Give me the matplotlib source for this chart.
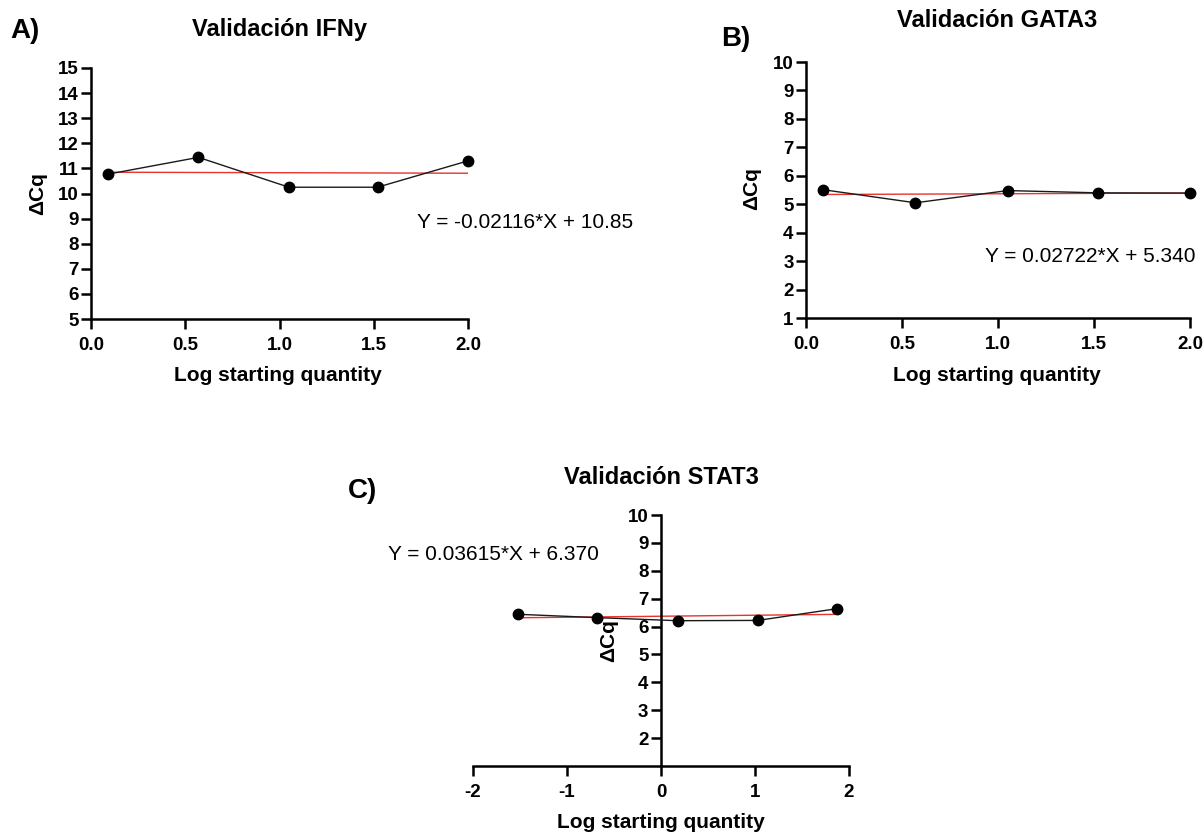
import matplotlib
matplotlib.use("Agg")
import matplotlib.pyplot as plt
import numpy as np

plt.rcParams["font.family"] = ["Liberation Sans", "DejaVu Sans"]
plt.rcParams["axes.unicode_minus"] = False

# log starting quantity (3-fold / 7-fold dilution series)
x_ifng = [0.09, 0.57, 1.05, 1.52, 2.0]
dcq_ifng = [10.77, 11.44, 10.25, 10.25, 11.30]

x_gata3 = [0.09, 0.57, 1.05, 1.52, 2.0]
dcq_gata3 = [5.51, 5.05, 5.48, 5.40, 5.39]

x_stat3 = [-1.52, -0.68, 0.18, 1.03, 1.87]
dcq_stat3 = [6.44, 6.32, 6.21, 6.22, 6.64]

# linear fits (slope, intercept)
fit_ifng = (-0.02116, 10.85)
fit_gata3 = (0.02722, 5.340)
fit_stat3 = (0.03615, 6.370)

W, H = 1204, 833
fig = plt.figure(figsize=(W / 100, H / 100), dpi=100)


def px_axes(left, top, right, bottom):
    return fig.add_axes([left / W, 1 - bottom / H, (right - left) / W, (bottom - top) / H])


def style(ax):
    for s in ["top", "right"]:
        ax.spines[s].set_visible(False)
    for s in ["left", "bottom"]:
        ax.spines[s].set_linewidth(1.8)
    ax.tick_params(width=1.8, length=7, labelsize=13.5)
    ax.tick_params(axis="x", pad=6)
    ax.tick_params(axis="y", pad=2)
    for lab in ax.get_xticklabels() + ax.get_yticklabels():
        lab.set_fontweight("bold")


def draw(ax, x, y, fit):
    xs = np.array([min(x), max(x)])
    ax.plot(xs, fit[0] * xs + fit[1], color="#e8332e", lw=1.0, zorder=2)
    ax.plot(x, y, color="#1a1a1a", lw=1.0, marker="o", ms=7.5,
            mfc="black", mec="black", zorder=3, clip_on=False)


def eq(fit):
    if abs(fit[1]) < 10:
        return f"Y = {fit[0]:.5f}*X + {fit[1]:.3f}"
    return f"Y = {fit[0]:.5f}*X + {fit[1]:.2f}"


# A) IFNy
ax = px_axes(91, 68, 468, 319)
draw(ax, x_ifng, dcq_ifng, fit_ifng)
ax.set_xlim(0, 2)
ax.set_ylim(5, 15)
ax.set_xticks([0, 0.5, 1.0, 1.5, 2.0])
ax.set_xticklabels(["0.0", "0.5", "1.0", "1.5", "2.0"])
ax.set_yticks(range(5, 16))
style(ax)

# B) GATA3
ax = px_axes(806, 62, 1190, 318)
draw(ax, x_gata3, dcq_gata3, fit_gata3)
ax.set_xlim(0, 2)
ax.set_ylim(1, 10)
ax.set_xticks([0, 0.5, 1.0, 1.5, 2.0])
ax.set_xticklabels(["0.0", "0.5", "1.0", "1.5", "2.0"])
ax.set_yticks(range(1, 11))
style(ax)

# C) STAT3, y axis crosses at x = 0
ax = px_axes(473, 515, 849, 766)
draw(ax, x_stat3, dcq_stat3, fit_stat3)
ax.set_xlim(-2, 2)
ax.set_ylim(1, 10)
ax.set_xticks([-2, -1, 0, 1, 2])
ax.set_yticks(range(2, 11))
ax.spines["left"].set_position(("data", 0))
style(ax)

# titles, panel letters, axis labels, equations
title_kw = dict(fontsize=17, fontweight="bold", ha="center", va="baseline")
fig.text(279 / W, 1 - 36 / H, "Validación IFNy", **title_kw)
fig.text(997 / W, 1 - 27 / H, "Validación GATA3", **title_kw)
fig.text(661 / W, 1 - 484 / H, "Validación STAT3", **title_kw)

letter_kw = dict(fontsize=20, fontweight="bold", ha="left", va="baseline")
fig.text(10 / W, 1 - 38 / H, "A)", **letter_kw)
fig.text(721 / W, 1 - 46 / H, "B)", **letter_kw)
fig.text(348 / W, 1 - 498 / H, "C)", **letter_kw)

xl_kw = dict(fontsize=15, fontweight="bold", ha="center", va="center")
fig.text(278 / W, 1 - 375 / H, "Log starting quantity", **xl_kw)
fig.text(997 / W, 1 - 375 / H, "Log starting quantity", **xl_kw)
fig.text(661 / W, 1 - 823 / H, "Log starting quantity", **xl_kw)

yl_kw = dict(fontsize=15, fontweight="bold", ha="center", va="center", rotation=90)
fig.text(38 / W, 1 - 194 / H, "ΔCq", **yl_kw)
fig.text(752 / W, 1 - 189 / H, "ΔCq", **yl_kw)
fig.text(609 / W, 1 - 641 / H, "ΔCq", **yl_kw)

eq_kw = dict(fontsize=15, ha="center", va="center")
fig.text(525 / W, 1 - 222 / H, eq(fit_ifng), **eq_kw)
fig.text(1090 / W, 1 - 257 / H, eq(fit_gata3), **eq_kw)
fig.text(493 / W, 1 - 555 / H, eq(fit_stat3), **eq_kw)

fig.savefig("out.png", dpi=100, facecolor="white")
